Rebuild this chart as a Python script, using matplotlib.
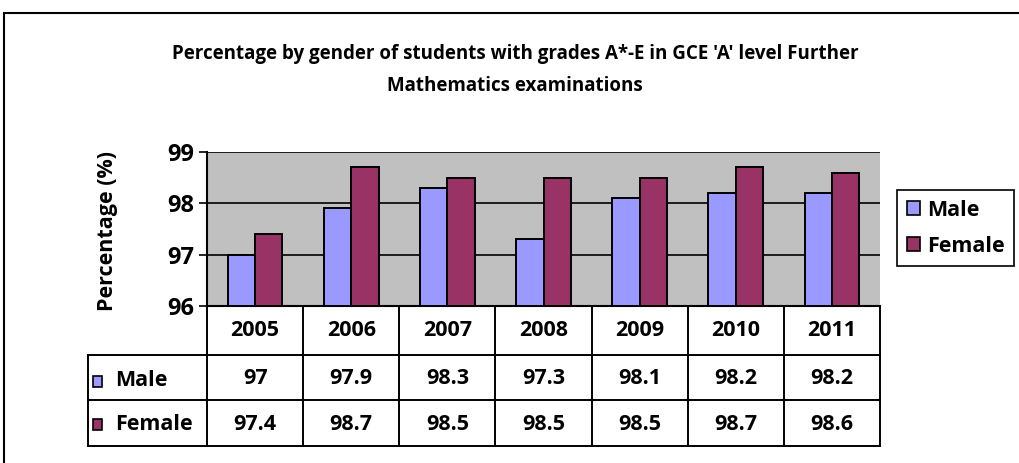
import matplotlib.pyplot as plt
from matplotlib.patches import Rectangle

years = ['2005', '2006', '2007', '2008', '2009', '2010', '2011']
male = [97, 97.9, 98.3, 97.3, 98.1, 98.2, 98.2]
female = [97.4, 98.7, 98.5, 98.5, 98.5, 98.7, 98.6]
male_labels = ['97', '97.9', '98.3', '97.3', '98.1', '98.2', '98.2']
female_labels = ['97.4', '98.7', '98.5', '98.5', '98.5', '98.7', '98.6']

male_col = '#9999FF'
female_col = '#993366'

plt.rcParams['font.family'] = ['Open Sans', 'DejaVu Sans']
plt.rcParams['font.weight'] = 'bold'

W, H = 1019, 463
fig = plt.figure(figsize=(W / 100, H / 100), dpi=100)

def fpos(x0, y0, x1, y1):
    return [x0 / W, 1 - y1 / H, (x1 - x0) / W, (y1 - y0) / H]

# outer frame
fig.patches.append(Rectangle((4 / W, -0.1), 1.2, 1 - 13 / H + 0.1,
                             transform=fig.transFigure, fill=False,
                             edgecolor='black', linewidth=1.5))

# chart area
ax = fig.add_axes(fpos(207, 152, 880, 306))
ax.set_facecolor('#C0C0C0')
x = list(range(len(years)))
bw = 0.285
ax.bar([i - bw / 2 for i in x], male, bw, color=male_col,
       edgecolor='black', linewidth=1.4, zorder=3)
ax.bar([i + bw / 2 for i in x], female, bw, color=female_col,
       edgecolor='black', linewidth=1.4, zorder=3)
ax.set_xlim(-0.5, 6.5)
ax.set_ylim(96, 99)
ax.set_yticks([96, 97, 98, 99])
ax.set_xticks([])
ax.tick_params(axis='y', length=6, width=1.2, labelsize=17, pad=3)
for lab in ax.get_yticklabels():
    lab.set_fontweight('bold')
for v in [97, 98, 99]:
    ax.axhline(v, color='black', linewidth=1.2, zorder=2)
for s in ['top', 'right']:
    ax.spines[s].set_visible(False)
ax.spines['left'].set_linewidth(1.5)
ax.spines['bottom'].set_linewidth(1.5)

fig.text(108 / W, 1 - 231 / H, 'Percentage (%)', rotation=90, ha='center',
         va='center', fontsize=15.5, fontweight='bold')

# data table
tab = fig.add_axes(fpos(207, 306, 880, 446))
tab.set_xlim(-0.5, 6.5)
tab.set_ylim(140, 0)
tab.axis('off')
left = -0.5 - 119 / 96.14
rows = [0, 49, 94, 140]
lw = 1.4
kw = dict(color='black', linewidth=lw, clip_on=False)
tab.plot([-0.5, 6.5], [0, 0], **kw)
tab.plot([left, 6.5], [rows[1], rows[1]], **kw)
tab.plot([left, 6.5], [rows[2], rows[2]], **kw)
tab.plot([left, 6.5], [rows[3], rows[3]], **kw)
tab.plot([left, left], [rows[1], rows[3]], **kw)
for i in range(len(years) + 1):
    tab.plot([i - 0.5, i - 0.5], [0, rows[3]], **kw)

fs = 15.5
for i, y in enumerate(years):
    tab.text(i, 25, y, ha='center', va='center', fontsize=fs, fontweight='bold')
    tab.text(i, 73, male_labels[i], ha='center', va='center', fontsize=fs, fontweight='bold')
    tab.text(i, 118, female_labels[i], ha='center', va='center', fontsize=fs, fontweight='bold')

sq = 9 / 96.14
for yc, col, name in [(75, male_col, 'Male'), (118, female_col, 'Female')]:
    tab.add_patch(Rectangle((left + 5 / 96.14, yc - 5.5), sq, 11, facecolor=col,
                            edgecolor='black', linewidth=1.2, clip_on=False))
    tab.text(left + 27 / 96.14, yc, name, ha='left', va='center',
             fontsize=fs, fontweight='bold')

# legend
handles = [Rectangle((0, 0), 1, 1, facecolor=male_col, edgecolor='black', linewidth=1.2),
           Rectangle((0, 0), 1, 1, facecolor=female_col, edgecolor='black', linewidth=1.2)]
leg = fig.legend(handles, ['Male', 'Female'], loc='upper left',
                 bbox_to_anchor=(897 / W, 1 - 190 / H), fancybox=False,
                 edgecolor='black', framealpha=1, fontsize=15.5,
                 handlelength=0.6, handleheight=0.6, handletextpad=0.35,
                 borderpad=0.45, labelspacing=0.7, borderaxespad=0)
leg.get_frame().set_linewidth(1.2)
for t in leg.get_texts():
    t.set_fontweight('bold')

fig.text(515 / W, 1 - 70 / H,
         "Percentage by gender of students with grades A*-E in GCE 'A' level Further\nMathematics examinations",
         ha='center', va='center', fontsize=13.5, fontweight='bold', linespacing=1.75)

fig.savefig('out.png', dpi=100)
